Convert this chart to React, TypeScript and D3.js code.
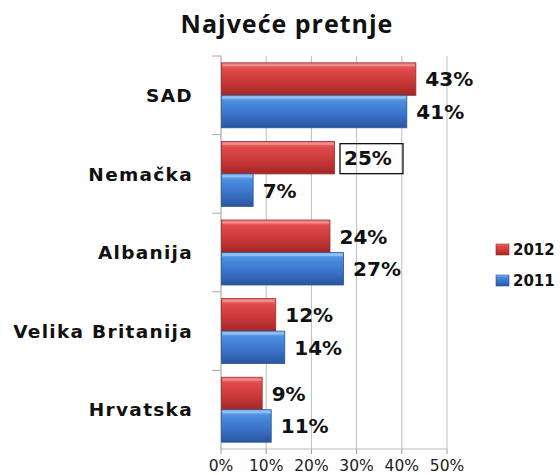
import React from "react";
import * as d3 from "d3";

const categories = ["SAD", "Nemačka", "Albanija", "Velika Britanija", "Hrvatska"];
const values2012 = [43, 25, 24, 12, 9];
const values2011 = [41, 7, 27, 14, 11];
const seriesNames = ["2012", "2011"];
const xTicks = [0, 10, 20, 30, 40, 50];

const W = 560;
const H = 475;
const M = { left: 221, right: 113, top: 56, bottom: 26 };

export default function App() {
  const x = d3.scaleLinear().domain([0, 50]).range([M.left, W - M.right]);
  const y = d3
    .scaleBand<string>()
    .domain(categories)
    .range([M.top, H - M.bottom])
    .paddingInner(0)
    .paddingOuter(0);
  const sub = d3
    .scaleBand<string>()
    .domain(seriesNames)
    .range([0, y.bandwidth()])
    .paddingOuter(0.21)
    .paddingInner(0);

  const series = [
    { name: "2012", values: values2012, grad: "gRed", stroke: "#9a2a2a" },
    { name: "2011", values: values2011, grad: "gBlue", stroke: "#2a5496" },
  ];
  const labelFont = "'DejaVu Sans', Verdana, sans-serif";
  const titleFont = "'Open Sans', 'Noto Sans', sans-serif";

  return (
    <svg width={W} height={H} style={{ position: "absolute", left: 0, top: 0, background: "#fff" }}>
      <defs>
        <linearGradient id="gRed" x1="0" y1="0" x2="0" y2="1">
          <stop offset="0" stopColor="#f08080" />
          <stop offset="0.18" stopColor="#e04a4a" />
          <stop offset="0.6" stopColor="#c83838" />
          <stop offset="1" stopColor="#a42626" />
        </linearGradient>
        <linearGradient id="gBlue" x1="0" y1="0" x2="0" y2="1">
          <stop offset="0" stopColor="#8cc0f4" />
          <stop offset="0.18" stopColor="#4a8ede" />
          <stop offset="0.6" stopColor="#3a72c8" />
          <stop offset="1" stopColor="#2a569e" />
        </linearGradient>
      </defs>

      <text x={287} y={33} textAnchor="middle" fontFamily={titleFont} fontWeight="bold" fontSize={25} letterSpacing={1} fill="#111">
        Najveće pretnje
      </text>

      {xTicks.map((t) => (
        <g key={t}>
          {t > 0 && (
            <line x1={x(t)} x2={x(t)} y1={M.top} y2={H - M.bottom} stroke="#bdbdbd" strokeWidth={1} />
          )}
          <line x1={x(t)} x2={x(t)} y1={H - M.bottom} y2={H - M.bottom + 5} stroke="#999" />
          <text x={x(t)} y={471} textAnchor="middle" fontFamily={labelFont} fontSize={15.5} fill="#222">
            {t}%
          </text>
        </g>
      ))}

      <line x1={M.left} x2={M.left} y1={M.top} y2={H - M.bottom} stroke="#999" />
      <line x1={M.left - 1} x2={x(50)} y1={H - M.bottom} y2={H - M.bottom} stroke="#bbb" />
      {categories.map((c) => (
        <line key={c} x1={M.left - 9} x2={M.left} y1={y(c)!} y2={y(c)!} stroke="#aaa" />
      ))}

      {categories.map((c) => (
        <text
          key={c}
          x={193}
          y={y(c)! + y.bandwidth() / 2}
          dy="0.36em"
          textAnchor="end"
          fontFamily={labelFont}
          fontWeight="bold"
          fontSize={18.5}
          letterSpacing={1.3}
          fill="#111"
        >
          {c}
        </text>
      ))}

      {series.map((s) =>
        categories.map((c, i) => {
          const by = y(c)! + sub(s.name)!;
          const bh = sub.bandwidth();
          const bw = x(s.values[i]) - x(0);
          return (
            <g key={s.name + c}>
              <rect x={x(0) + 0.5} y={by} width={bw} height={bh} fill={`url(#${s.grad})`} stroke={s.stroke} strokeWidth={0.8} />
              <rect x={x(0) + 1.5} y={by + 1.5} width={Math.max(0, bw - 2)} height={2} fill="#ffffff" opacity={0.25} />
            </g>
          );
        })
      )}

      {series.map((s) =>
        categories.map((c, i) => {
          const cy = y(c)! + sub(s.name)! + sub.bandwidth() / 2;
          const lx = x(s.values[i]) + 10;
          const boxed = s.name === "2012" && c === "Nemačka";
          return (
            <g key={"l" + s.name + c}>
              {boxed && <rect x={lx - 4} y={cy - 14} width={63} height={30} fill="none" stroke="#111" strokeWidth={1.3} />}
              <text x={lx} y={cy} dy="0.37em" fontFamily={labelFont} fontWeight="bold" fontSize={20} fill="#111">
                {s.values[i]}%
              </text>
            </g>
          );
        })
      )}

      {series.map((s, i) => (
        <g key={"lg" + s.name} transform={`translate(496, ${244 + i * 31})`}>
          <rect x={0} y={0} width={13} height={11} fill={`url(#${s.grad})`} stroke={s.stroke} strokeWidth={0.6} />
          <text x={17} y={5.5} dy="0.36em" fontFamily={labelFont} fontWeight="bold" fontSize={15} fill="#111">
            {s.name}
          </text>
        </g>
      ))}
    </svg>
  );
}
